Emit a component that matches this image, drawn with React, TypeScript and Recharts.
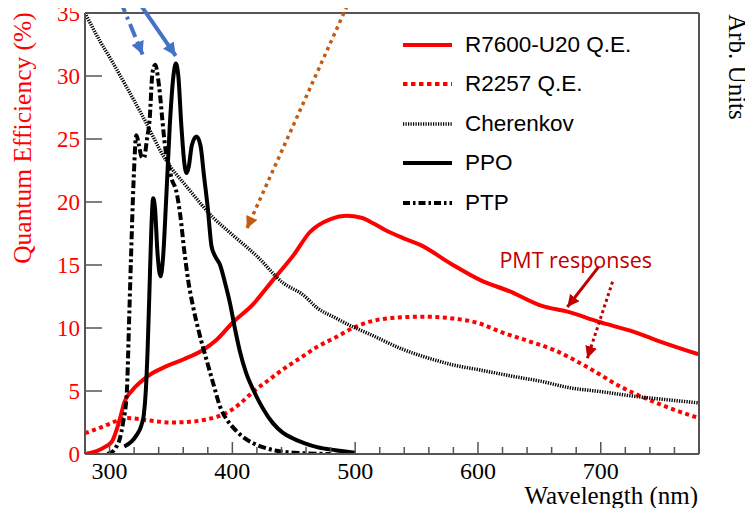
import React from 'react';
import { LineChart, Line, XAxis, YAxis, ReferenceLine, ReferenceDot, Legend } from 'recharts';

// axis ticks
const xTicks = [280, 300, 320, 340, 360, 380, 400, 420, 440, 460, 480, 500, 520, 540, 560, 580, 600, 620, 640, 660, 680, 700, 720, 740, 760, 780];
const yTicks = [0, 5, 10, 15, 20, 25, 30, 35];

// R7600-U20 quantum efficiency (%)
const r7600Wl = [280, 290, 297, 302, 306, 309, 312, 318, 325, 333, 346, 360, 376, 387, 400, 417, 433, 450, 463, 480, 493, 505, 515, 526, 540, 553, 578, 602, 626, 652, 673, 698, 727, 749, 780];
const r7600Qe = [0, 0.25, 0.6, 1.0, 2.0, 3.0, 4.1, 5.0, 5.7, 6.3, 6.95, 7.5, 8.25, 9.05, 10.4, 11.9, 13.8, 15.8, 17.6, 18.65, 18.9, 18.75, 18.3, 17.7, 17.1, 16.6, 15.1, 13.8, 12.9, 11.75, 11.3, 10.5, 9.7, 8.9, 7.9];

// R2257 quantum efficiency (%)
const r2257Wl = [280, 290, 300, 314, 333, 350, 365, 379, 395, 405, 417, 430, 441, 455, 469, 485, 498, 512, 530, 555, 580, 600, 621, 640, 662, 689, 716, 743, 760, 780];
const r2257Qe = [1.65, 2.0, 2.4, 2.85, 2.65, 2.5, 2.55, 2.75, 3.25, 3.9, 4.95, 5.9, 6.7, 7.6, 8.5, 9.3, 10.0, 10.5, 10.8, 10.9, 10.75, 10.4, 9.6, 9.0, 8.25, 6.9, 5.35, 4.15, 3.5, 2.85];

// Cherenkov spectrum (arb.)
const cherWl = [280, 292, 300, 314, 327, 346, 363, 384, 400, 420, 441, 458, 469, 484, 498, 512, 539, 567, 580, 600, 632, 650, 675, 700, 730, 755, 780];
const cherVal = [35, 32.8, 31.5, 29.1, 26.8, 23.3, 21.2, 18.8, 17.4, 15.7, 13.6, 12.6, 11.6, 10.8, 10.1, 9.5, 8.3, 7.4, 7.06, 6.7, 6.1, 5.8, 5.25, 4.95, 4.55, 4.3, 4.05];

// PPO emission (arb.)
const ppoWl = [312, 318, 322, 326, 328, 329.5, 331, 332.5, 334, 335.5, 337, 339, 341.5, 343.5, 346, 349, 352, 354, 356, 358.5, 361, 362.6, 364.5, 367, 370.8, 374, 377, 380, 383, 386, 390, 394, 398, 402, 406, 411, 417, 425, 433, 441, 449, 459, 469, 484, 500];
const ppoVal = [0.6, 1.0, 1.5, 2.3, 3.2, 5.0, 8.3, 13, 17.8, 20.3, 19.5, 16, 14.1, 15.5, 20, 26, 30, 31.0, 30, 26, 23, 22.3, 22.8, 24.5, 25.2, 24.5, 22, 19.5, 16.5, 15.7, 15.0, 13.6, 12.0, 10.0, 8.2, 6.5, 5.1, 3.6, 2.45, 1.7, 1.25, 0.85, 0.55, 0.3, 0.1];

// PTP emission (arb.)
const ptpWl = [298, 302, 305, 308, 311, 314, 316, 317.5, 319.5, 321.8, 324, 326, 328, 330.5, 332.6, 335, 337.3, 339.5, 341, 343, 345.5, 348, 351, 354, 357.5, 361, 364, 368, 373, 379, 385, 390, 395, 400, 408, 417, 426, 436, 450, 480];
const ptpVal = [0, 0.15, 0.5, 1.1, 2.5, 4.8, 10.9, 15.7, 21.5, 25.3, 24.5, 23.6, 23.5, 25, 26.5, 30.3, 30.9, 29.8, 28.6, 26.5, 24.2, 23.0, 21.7, 21.0, 19, 16, 13.8, 11.7, 9.6, 7.46, 5.4, 3.75, 2.8, 2.17, 1.4, 0.85, 0.5, 0.26, 0.1, 0];

// annotation arrows [x1, y1, x2, y2] in data units
const blueSolidArrow = [322, 36.1, 353.9, 31.6];
const blueDashArrow = [308.2, 36.1, 326.9, 31.7];
const orangeArrow = [495.9, 36.1, 411.8, 17.9];
const redSolidArrow = [698.4, 14.87, 672.8, 11.67];
const redDotArrow = [709.6, 13.67, 689.1, 7.6];
const pmtLabelPos = [679.6, 15.4];

const toPoints = (wl: number[], v: number[]) => wl.map((x, i) => ({ x, y: v[i] }));

const RED = '#ff0000';
const DARK_RED = '#c00000';
const BLUE = '#4472c4';
const ORANGE = '#c55a11';
const AXIS = '#555';
const SERIF = '"Liberation Serif", "Times New Roman", serif';

const series = [
  { name: 'R7600-U20 Q.E.', data: toPoints(r7600Wl, r7600Qe), color: RED, width: 4, dash: undefined, legendDash: undefined },
  { name: 'R2257 Q.E.', data: toPoints(r2257Wl, r2257Qe), color: RED, width: 4, dash: '4 3.5', legendDash: '4.5 3.5' },
  { name: 'Cherenkov', data: toPoints(cherWl, cherVal), color: '#000', width: 3.5, dash: '1.3 1.2', legendDash: '1.2 1.3' },
  { name: 'PPO', data: toPoints(ppoWl, ppoVal), color: '#000', width: 4, dash: undefined, legendDash: undefined },
  { name: 'PTP', data: toPoints(ptpWl, ptpVal), color: '#000', width: 4, dash: '8 3 3 3', legendDash: '7 3 2.5 3' },
];

const XTick = ({ x, y, payload }: any) => {
  const major = payload.value % 100 === 0;
  return (
    <g>
      <line x1={x} y1={y} x2={x} y2={y - (major ? 12 : 7)} stroke={AXIS} strokeWidth={1.5} />
      {major && (
        <text x={x} y={y + 25} textAnchor="middle" fontFamily={SERIF} fontSize={24} fill="#000">
          {payload.value}
        </text>
      )}
    </g>
  );
};

const YTickLeft = ({ x, y, payload }: any) => (
  <g>
    <line x1={x} y1={y} x2={x + 17} y2={y} stroke={AXIS} strokeWidth={1.5} />
    <text x={x - 5} y={y} dy="0.35em" textAnchor="end" fontFamily={SERIF} fontSize={23} fill={RED}>
      {payload.value}
    </text>
  </g>
);

const YTickRight = ({ x, y }: any) => (
  <line x1={x} y1={y} x2={x - 15} y2={y} stroke={AXIS} strokeWidth={1.5} />
);

// drawn in series order (recharts reverses the payload here)
const LegendBox = () => (
  <div>
    {series.map((s) => (
      <div key={s.name} style={{ display: 'flex', alignItems: 'center', height: 39.5 }}>
        <svg width={49} height={10}>
          <line x1={0} y1={5} x2={49} y2={5} stroke={s.color} strokeWidth={s.width} strokeDasharray={s.legendDash} />
        </svg>
        <span style={{ marginLeft: 13, fontFamily: '"Liberation Sans", Arial, sans-serif', fontSize: 22.5, color: '#000', lineHeight: 1 }}>
          {s.name}
        </span>
      </div>
    ))}
  </div>
);

const arrowShape = (color: string, width: number, dash: string | undefined, marker: string) => (p: any) => (
  <line
    x1={p.x1}
    y1={p.y1}
    x2={p.x2}
    y2={p.y2}
    stroke={color}
    strokeWidth={width}
    strokeDasharray={dash}
    markerEnd={`url(#${marker})`}
  />
);

const seg = (a: number[]) => [
  { x: a[0], y: a[1] },
  { x: a[2], y: a[3] },
];

const App = () => (
  <div style={{ margin: -8, width: 753, height: 516, background: '#fff', position: 'relative' }}>
    <svg width={0} height={0} style={{ position: 'absolute' }}>
      <defs>
        {[
          ['ah-blue', BLUE, 14, 13],
          ['ah-orange', ORANGE, 13, 12],
          ['ah-red', DARK_RED, 12, 12],
        ].map(([id, c, w, h]) => (
          <marker
            key={id as string}
            id={id as string}
            viewBox="0 0 10 10"
            refX={10}
            refY={5}
            markerWidth={w as number}
            markerHeight={h as number}
            markerUnits="userSpaceOnUse"
            orient="auto"
          >
            <path d="M0,0 L10,5 L0,10 z" fill={c as string} />
          </marker>
        ))}
      </defs>
    </svg>
    <LineChart width={753} height={516} margin={{ top: 13, right: 0, left: 0, bottom: 0 }}>
      <XAxis
        dataKey="x"
        type="number"
        domain={[280, 780]}
        ticks={xTicks}
        interval={0}
        allowDataOverflow
        height={62}
        tickSize={0}
        tickMargin={0}
        tickLine={false}
        tick={<XTick />}
        axisLine={{ stroke: AXIS, strokeWidth: 2 }}
        label={() => (
          <text x={698} y={504} textAnchor="end" fontFamily={SERIF} fontSize={25} fill="#000">
            Wavelength (nm)
          </text>
        )}
      />
      <YAxis
        yAxisId="left"
        type="number"
        domain={[0, 35]}
        ticks={yTicks}
        interval={0}
        allowDataOverflow
        width={85}
        tickSize={0}
        tickMargin={0}
        tickLine={false}
        tick={<YTickLeft />}
        axisLine={{ stroke: AXIS, strokeWidth: 2 }}
        label={() => (
          <text
            x={31}
            y={138}
            transform="rotate(-90 31 138)"
            textAnchor="middle"
            fontFamily={SERIF}
            fontSize={25.5}
            fill={RED}
          >
            Quantum Efficiency (%)
          </text>
        )}
      />
      <YAxis
        yAxisId="right"
        orientation="right"
        type="number"
        domain={[0, 35]}
        ticks={yTicks}
        interval={0}
        width={54}
        tickSize={0}
        tickMargin={0}
        tickLine={false}
        tick={<YTickRight />}
        axisLine={{ stroke: AXIS, strokeWidth: 2 }}
        label={() => (
          <text
            x={729}
            y={67}
            transform="rotate(90 729 67)"
            textAnchor="middle"
            fontFamily={SERIF}
            fontSize={25}
            fill="#000"
          >
            Arb. Units
          </text>
        )}
      />
      <ReferenceLine yAxisId="left" y={35} stroke={AXIS} strokeWidth={2} />
      {series.map((s) => (
        <Line
          key={s.name}
          yAxisId="left"
          data={s.data}
          dataKey="y"
          name={s.name}
          type="monotone"
          stroke={s.color}
          strokeWidth={s.width}
          strokeDasharray={s.dash}
          dot={false}
          activeDot={false}
          isAnimationActive={false}
        />
      ))}
      <ReferenceLine yAxisId="left" segment={seg(blueSolidArrow)} ifOverflow="visible" shape={arrowShape(BLUE, 4, undefined, 'ah-blue')} />
      <ReferenceLine yAxisId="left" segment={seg(blueDashArrow)} ifOverflow="visible" shape={arrowShape(BLUE, 4, '14 5 3 5', 'ah-blue')} />
      <ReferenceLine yAxisId="left" segment={seg(orangeArrow)} ifOverflow="visible" shape={arrowShape(ORANGE, 3.5, '3.5 4', 'ah-orange')} />
      <ReferenceLine yAxisId="left" segment={seg(redSolidArrow)} ifOverflow="visible" shape={arrowShape(DARK_RED, 3, undefined, 'ah-red')} />
      <ReferenceLine yAxisId="left" segment={seg(redDotArrow)} ifOverflow="visible" shape={arrowShape(DARK_RED, 3, '3 3', 'ah-red')} />
      <ReferenceDot
        yAxisId="left"
        x={pmtLabelPos[0]}
        y={pmtLabelPos[1]}
        r={0}
        fill="none"
        stroke="none"
        ifOverflow="visible"
        label={{ value: 'PMT responses', position: 'center', fill: DARK_RED, fontSize: 21.5, fontFamily: '"Open Sans", sans-serif' }}
      />
      <Legend
        layout="vertical"
        align="center"
        verticalAlign="middle"
        content={<LegendBox />}
        wrapperStyle={{ top: 25, left: 403, width: 300 }}
      />
    </LineChart>
  </div>
);

export default App;
